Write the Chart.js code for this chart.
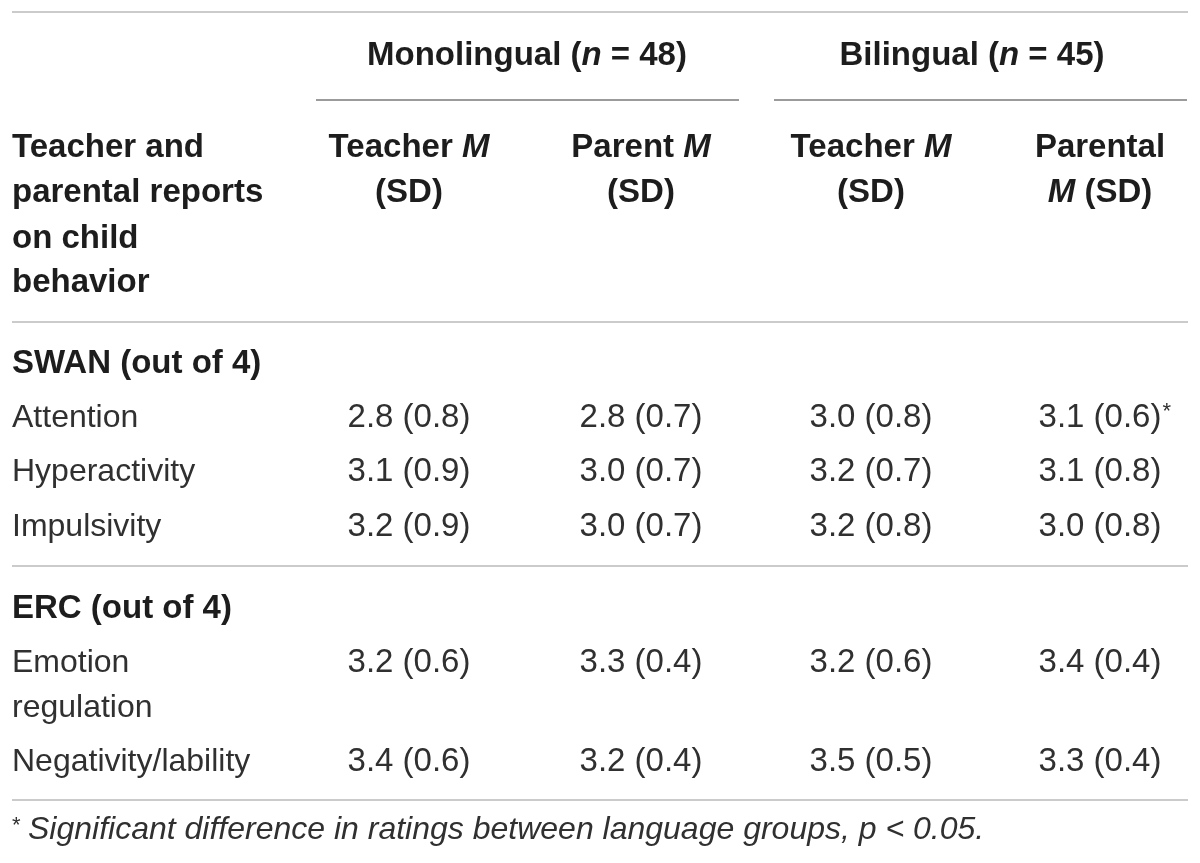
<!DOCTYPE html>
<html>
<head>
<meta charset="utf-8">
<script src="https://cdn.jsdelivr.net/npm/chart.js@4.4.1/dist/chart.umd.min.js"></script>
<style>
  html, body { margin: 0; padding: 0; background: #fff; }
  #wrap { width: 1200px; height: 863px; }
</style>
</head>
<body>
<div id="wrap"><canvas id="tbl"></canvas></div>
<script>
///////Data
const groups = ['Monolingual', 'Bilingual'];
const groupN = [48, 45];
const stubHead = ['Teacher and', 'parental reports', 'on child', 'behavior'];
const sections = ['SWAN (out of 4)', 'ERC (out of 4)'];
const swanRows = ['Attention', 'Hyperactivity', 'Impulsivity'];
const ercRows = [['Emotion', 'regulation'], ['Negativity/lability']];

// rows: Attention, Hyperactivity, Impulsivity, Emotion regulation, Negativity/lability
const monoTeacherM = [2.8, 3.1, 3.2, 3.2, 3.4];
const monoTeacherSD = [0.8, 0.9, 0.9, 0.6, 0.6];
const monoParentM = [2.8, 3.0, 3.0, 3.3, 3.2];
const monoParentSD = [0.7, 0.7, 0.7, 0.4, 0.4];
const biTeacherM = [3.0, 3.2, 3.2, 3.2, 3.5];
const biTeacherSD = [0.8, 0.7, 0.8, 0.6, 0.5];
const biParentM = [3.1, 3.1, 3.0, 3.4, 3.3];
const biParentSD = [0.6, 0.8, 0.8, 0.4, 0.4];
const biParentSig = [true, false, false, false, false];

const footnote = 'Significant difference in ratings between language groups, ';
const footnoteP = 'p';
const footnoteEnd = ' < 0.05.';

///////Layout (table geometry in scale units)
const left = 12;
const right = 1188;
const colX = [409, 641, 871, 1100];
const groupX = [527, 972];
const groupLine = [[316, 739], [774, 1187]];
const yGroup = 65;
const yHead = [157, 202, 248, 292];
const ySection = [373, 618];
const ySwan = [427, 481, 536];
const yErc = [[672, 717], [771]];
const yFoot = 839;
const rules = [12, 322, 566, 800];
const ruleGroup = 100;

const FONT = '"Liberation Sans", Arial, Helvetica, sans-serif';
const SIZE = 32;
const BOLD_SIZE = 33;
const NUM_SIZE = 33;

const font = (r, size) =>
  `${r.italic ? 'italic ' : ''}${r.bold ? 'bold ' : ''}${size}px ${FONT}`;

function runsWidth(ctx, runs, size) {
  let w = 0;
  runs.forEach((r) => {
    ctx.font = font(r, size);
    w += ctx.measureText(r.t).width;
  });
  return w;
}

function drawRuns(ctx, runs, x, y, align, size, color) {
  const w = runsWidth(ctx, runs, size);
  let cx = align === 'center' ? x - w / 2 : x;
  ctx.textAlign = 'left';
  ctx.fillStyle = color;
  runs.forEach((r) => {
    ctx.font = font(r, size);
    ctx.fillText(r.t, cx, y);
    cx += ctx.measureText(r.t).width;
  });
}

// column headers built from the text parts
const colHeads = [
  [[{ t: 'Teacher ', bold: true }, { t: 'M', bold: true, italic: true }], [{ t: '(SD)', bold: true }]],
  [[{ t: 'Parent ', bold: true }, { t: 'M', bold: true, italic: true }], [{ t: '(SD)', bold: true }]],
  [[{ t: 'Teacher ', bold: true }, { t: 'M', bold: true, italic: true }], [{ t: '(SD)', bold: true }]],
  [[{ t: 'Parental', bold: true }], [{ t: 'M', bold: true, italic: true }, { t: ' (SD)', bold: true }]],
];

const rowY = [ySwan[0], ySwan[1], ySwan[2], yErc[0][0], yErc[1][0]];
const cellText = (m, sd) => `${m.toFixed(1)} (${sd.toFixed(1)})`;
const columns = [
  { m: monoTeacherM, sd: monoTeacherSD },
  { m: monoParentM, sd: monoParentSD },
  { m: biTeacherM, sd: biTeacherSD },
  { m: biParentM, sd: biParentSD, sig: biParentSig },
];

const datasets = columns.map((c, ci) => ({
  label: 'col' + ci,
  data: c.m.map((m, ri) => ({ x: colX[ci], y: rowY[ri], text: cellText(m, c.sd[ri]), sig: c.sig ? c.sig[ri] : false })),
  pointRadius: 0,
  pointHoverRadius: 0,
}));

//////Plugin that paints the table
const tablePlugin = {
  id: 'tablePlugin',
  afterDatasetsDraw(chart) {
    const ctx = chart.ctx;
    const xs = chart.scales.x;
    const ys = chart.scales.y;
    const px = (v) => xs.getPixelForValue(v);
    const py = (v) => ys.getPixelForValue(v);
    ctx.save();
    ctx.textBaseline = 'alphabetic';

    // rules
    ctx.lineWidth = 2;
    ctx.strokeStyle = '#cbcbcb';
    rules.forEach((r) => {
      ctx.beginPath();
      ctx.moveTo(px(left), py(r));
      ctx.lineTo(px(right), py(r));
      ctx.stroke();
    });
    ctx.strokeStyle = '#9b9b9b';
    groupLine.forEach((g) => {
      ctx.beginPath();
      ctx.moveTo(px(g[0]), py(ruleGroup));
      ctx.lineTo(px(g[1]), py(ruleGroup));
      ctx.stroke();
    });

    const dark = '#1d1d1d';
    const reg = '#303030';

    // group headers
    groups.forEach((g, i) => {
      drawRuns(ctx, [
        { t: g + ' (', bold: true },
        { t: 'n', bold: true, italic: true },
        { t: ' = ' + groupN[i] + ')', bold: true },
      ], px(groupX[i]), py(yGroup), 'center', BOLD_SIZE, dark);
    });

    // stub head
    stubHead.forEach((s, i) => {
      drawRuns(ctx, [{ t: s, bold: true }], px(left), py(yHead[i]), 'left', BOLD_SIZE, dark);
    });

    // column heads
    colHeads.forEach((lines, ci) => {
      lines.forEach((runs, li) => {
        drawRuns(ctx, runs, px(colX[ci]), py(yHead[li]), 'center', BOLD_SIZE, dark);
      });
    });

    // sections
    sections.forEach((s, i) => {
      drawRuns(ctx, [{ t: s, bold: true }], px(left), py(ySection[i]), 'left', BOLD_SIZE, dark);
    });

    // row labels
    swanRows.forEach((s, i) => {
      drawRuns(ctx, [{ t: s }], px(left), py(ySwan[i]), 'left', SIZE, reg);
    });
    ercRows.forEach((lines, i) => {
      lines.forEach((s, li) => {
        drawRuns(ctx, [{ t: s }], px(left), py(yErc[i][li]), 'left', SIZE, reg);
      });
    });

    // cells, positioned from the dataset elements
    ctx.fillStyle = reg;
    chart.data.datasets.forEach((ds, di) => {
      const meta = chart.getDatasetMeta(di);
      meta.data.forEach((el, i) => {
        const d = ds.data[i];
        ctx.font = `${NUM_SIZE}px ${FONT}`;
        const w = ctx.measureText(d.text).width;
        ctx.textAlign = 'center';
        ctx.fillText(d.text, el.x, el.y);
        if (d.sig) {
          ctx.font = `22px ${FONT}`;
          ctx.textAlign = 'left';
          ctx.fillText('*', el.x + w / 2 + 1, el.y - 9);
        }
      });
    });

    // footnote
    ctx.fillStyle = reg;
    ctx.font = `22px ${FONT}`;
    ctx.textAlign = 'left';
    ctx.fillText('*', px(left), py(yFoot) - 7);
    const fruns = [
      { t: footnote, italic: true },
      { t: footnoteP, italic: true },
      { t: footnoteEnd, italic: true },
    ];
    drawRuns(ctx, fruns, px(28), py(yFoot), 'left', 32, reg);

    ctx.restore();
  },
};

const chart = new Chart(document.getElementById('tbl').getContext('2d'), {
  type: 'scatter',
  data: { datasets: datasets },
  options: {
    responsive: true,
    maintainAspectRatio: false,
    animation: false,
    events: [],
    layout: { padding: 0 },
    plugins: { legend: { display: false }, tooltip: { enabled: false } },
    scales: {
      x: { type: 'linear', min: 0, max: 1200, display: false },
      y: { type: 'linear', min: 0, max: 863, reverse: true, display: false },
    },
  },
  plugins: [tablePlugin],
});
</script>
</body>
</html>
